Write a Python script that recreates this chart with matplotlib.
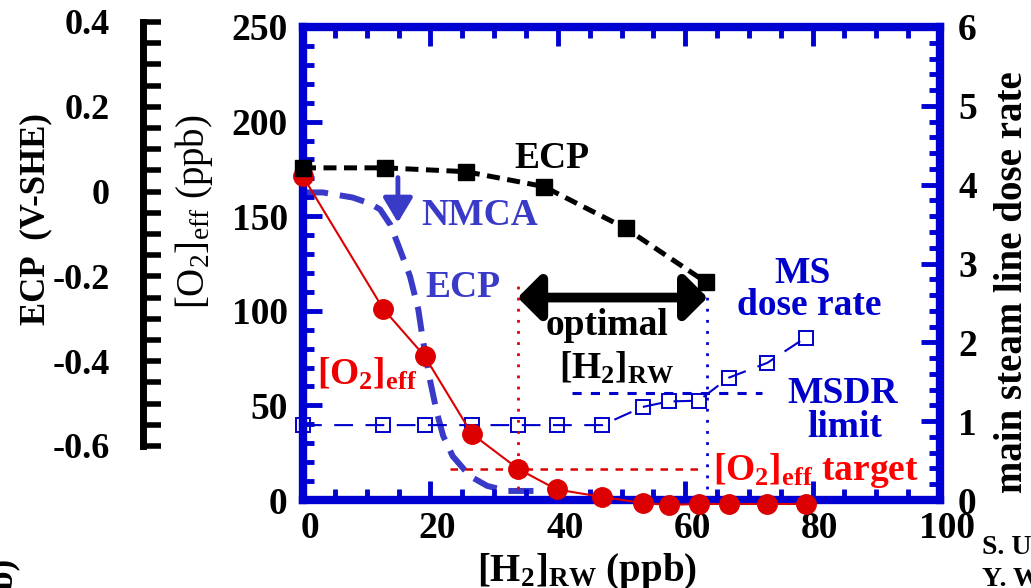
import matplotlib
matplotlib.use("Agg")
import matplotlib.pyplot as plt
import matplotlib.transforms as mtransforms
from matplotlib.ticker import MultipleLocator

plt.rcParams['font.family'] = 'Liberation Serif'
plt.rcParams['mathtext.fontset'] = 'custom'
plt.rcParams['mathtext.rm'] = 'Liberation Serif'
plt.rcParams['mathtext.bf'] = 'Liberation Serif:bold'
plt.rcParams['mathtext.it'] = 'Liberation Serif:italic'

# --- data ---
# ECP with HWC only (black squares), V-SHE
h2_ecp = [0, 12.9, 25.6, 37.8, 50.7, 63.3]
ecp_hwc = [0.056, 0.056, 0.047, 0.012, -0.087, -0.214]

# ECP after NMCA (blue dashed curve), V-SHE
h2_nmca = [0, 3.1, 7.8, 10.5, 12.1, 13.7, 15.2, 16.8, 18.1, 18.8, 19.9,
           21.0, 22.0, 23.5, 26.2, 28.9, 32.0, 37.2]
ecp_nmca = [-0.002, -0.002, -0.014, -0.028, -0.042, -0.078, -0.136, -0.200,
            -0.278, -0.348, -0.442, -0.520, -0.576, -0.624, -0.671, -0.694,
            -0.706, -0.706]

# measured points shared by [O2]eff and MS dose rate
h2_pts = [0, 12.6, 19.1, 26.5, 33.8, 39.8, 47.0, 53.3, 57.4, 62.1, 66.8, 72.9, 78.9]
o2_eff = [171, 101, 76, 35, 16.4, 5.6, 1.6, -1.6, -2.6, -2.1, -2.1, -2.1, -2.1]
ms_dose = [0.95, 0.95, 0.95, 0.95, 0.95, 0.95, 0.95, 1.18, 1.25, 1.26, 1.55, 1.74, 2.06]

o2_target = 16.4
msdr_limit = 1.36
h2_opt_lo, h2_opt_hi = 33.7, 63.5

x_ticks = [0, 20, 40, 60, 80, 100]
o2_ticks = [0, 50, 100, 150, 200, 250]
dose_ticks = [0, 1, 2, 3, 4, 5, 6]
ecp_ticks = [0.4, 0.2, 0, -0.2, -0.4, -0.6]
ecp_tick_labels = ['0.4', '0.2', '0', '-0.2', '-0.4', '-0.6']

AX_BLUE = '#0000d2'
NMCA_BLUE = '#3a3ac8'
MS_BLUE = '#0000cc'
RED = '#dd0000'

W, H = 1031, 588
fig = plt.figure(figsize=(W / 100, H / 100), dpi=100)


def fx(px):
    return px / W


def fy(py):
    return 1 - py / H


# pixel frame of the main box and of the separate ECP scale
left, right, top, bottom = 303, 940, 27, 500
ecp_top, ecp_bot = 22, 446

ax = fig.add_axes([fx(left), fy(bottom), (right - left) / W, (bottom - top) / H])
ax.set_xlim(0, 100)
ax.set_ylim(0, 250)
ax.patch.set_visible(False)

# separate ECP scale on the far left
axe = fig.add_axes([fx(143), fy(ecp_bot), 0.02, (ecp_bot - ecp_top) / H])
axe.set_ylim(-0.6, 0.4)
axe.patch.set_visible(False)
for s in ['top', 'right', 'bottom']:
    axe.spines[s].set_visible(False)
axe.spines['left'].set_linewidth(5)
axe.set_xticks([])
axe.set_yticks(ecp_ticks)
axe.set_yticklabels(ecp_tick_labels)
axe.yaxis.set_minor_locator(MultipleLocator(0.05))
axe.tick_params(axis='y', which='both', direction='in', length=13, width=4,
                pad=24, labelsize=26)
for lbl in axe.get_yticklabels():
    lbl.set_fontweight('bold')

# ECP data on twins scaled to the far-left ECP axis
scale = 1.0 / (ecp_bot - ecp_top)
ecp_lim = (0.4 - (bottom - ecp_top) * scale, 0.4 - (top - ecp_top) * scale)

axn = ax.twinx()
axn.set_ylim(*ecp_lim)
axk = ax.twinx()
axk.set_ylim(*ecp_lim)
axr = ax.twinx()
axr.set_ylim(0, 6)
for a in (axn, axk, axr):
    a.patch.set_visible(False)
    for s in a.spines.values():
        s.set_visible(False)
axn.set_yticks([])
axk.set_yticks([])
axn.set_zorder(1)
axr.set_zorder(2)
ax.set_zorder(3)
axk.set_zorder(4)

# main axis styling
for s in ax.spines.values():
    s.set_color(AX_BLUE)
    s.set_linewidth(6)
ax.set_xticks(x_ticks)
ax.set_yticks(o2_ticks)
ax.xaxis.set_minor_locator(MultipleLocator(5))
ax.yaxis.set_minor_locator(MultipleLocator(10))
ax.tick_params(which='both', direction='in', color=AX_BLUE, width=3.5,
               top=True, right=False, labelsize=27)
ax.tick_params(which='major', length=14)
ax.tick_params(which='minor', length=8)
ax.tick_params(axis='x', pad=8)
ax.tick_params(axis='y', pad=11)
shift = mtransforms.ScaledTranslation(7 / 100, 0, fig.dpi_scale_trans)
for lbl in ax.get_xticklabels():
    lbl.set_fontweight('bold')
    lbl.set_transform(lbl.get_transform() + shift)
for lbl in ax.get_yticklabels():
    lbl.set_fontweight('bold')

axr.set_yticks(dose_ticks)
axr.yaxis.set_minor_locator(MultipleLocator(0.2))
axr.tick_params(axis='y', which='both', direction='in', color=AX_BLUE, width=3.5,
                pad=13, labelsize=27)
axr.tick_params(which='major', length=14)
axr.tick_params(which='minor', length=8)
for lbl in axr.get_yticklabels():
    lbl.set_fontweight('bold')

# curves
axn.plot(h2_nmca, ecp_nmca, color=NMCA_BLUE, lw=4.3, dashes=(4.2, 2.0),
         solid_capstyle='butt', dash_capstyle='butt')

axr.plot(h2_pts, ms_dose, color=MS_BLUE, lw=1.5, dashes=(9, 6),
         marker='s', ms=10, mfc='none', mec=MS_BLUE, mew=1.4, clip_on=False)
axr.plot([42.2, 72.1], [msdr_limit, msdr_limit], color=MS_BLUE, lw=2.2,
         dashes=(3, 3))
axr.plot([h2_opt_hi, h2_opt_hi], [0, 2.6], color=MS_BLUE, lw=2, dashes=(1, 3))

ax.plot(h2_pts, o2_eff, color=RED, lw=1.5, marker='o', ms=14, mec=RED, mfc=RED,
        clip_on=False, zorder=5)
ax.plot([23.1, 62.3], [o2_target, o2_target], color=RED, lw=1.8, dashes=(3, 3))
ax.plot([h2_opt_lo, h2_opt_lo], [0, 115], color=RED, lw=2, dashes=(1, 3))

axk.plot(h2_ecp, ecp_hwc, color='black', lw=3.6, dashes=(2.6, 1.5),
         marker='s', ms=12, mfc='black', mec='black', clip_on=False)

# arrows
ax.annotate('', xy=(h2_opt_hi, 107), xytext=(h2_opt_lo, 107),
            arrowprops=dict(arrowstyle='<|-|>,head_length=0.45,head_width=0.45',
                            lw=7, color='black', mutation_scale=30,
                            shrinkA=0, shrinkB=0), zorder=6)
ax.annotate('', xy=(14.9, 146.6), xytext=(14.9, 170.4),
            arrowprops=dict(arrowstyle='-|>,head_length=0.5,head_width=0.3',
                            lw=3.5, color=NMCA_BLUE, mutation_scale=30,
                            shrinkA=0, shrinkB=0), zorder=6)

# in-plot labels
tk = dict(ha='center', va='baseline', fontsize=27, fontweight='bold', zorder=7)
ax.text(39.1, 175.5, 'ECP', color='black', **tk)
ax.text(27.8, 145.3, 'NMCA', color=NMCA_BLUE, **tk)
ax.text(25.1, 107.3, 'ECP', color=NMCA_BLUE, **tk)
ax.text(47.7, 87.2, 'optimal', color='black', **tk)
ax.text(49.3, 64.5, r'[H$_\mathbf{2}$]$_\mathbf{RW}$', color='black', **tk)
ax.text(10.0, 60.8, r'[O$_\mathbf{2}$]$_\mathbf{eff}$', color='#ee0000', **tk)
ax.text(78.5, 114.7, 'MS', color=MS_BLUE, **tk)
ax.text(79.4, 97.8, 'dose rate', color=MS_BLUE, **tk)
ax.text(84.8, 51.3, 'MSDR', color=MS_BLUE, **tk)
ax.text(85.1, 33.3, 'limit', color=MS_BLUE, **tk)
ax.text(80.6, 10.6, r'[O$_\mathbf{2}$]$_\mathbf{eff}$ target', color='#ff0000', **tk)

# axis titles
fig.text(fx(194), fy(212), r'[O$_2$]$_{\mathrm{eff}}$ (ppb)', rotation=90,
         ha='center', va='center', fontsize=28)
fig.text(fx(36), fy(219), 'ECP  (V-SHE)', rotation=90, ha='center', va='center',
         fontsize=25, fontweight='bold')
fig.text(fx(1013), fy(282), 'main steam line dose rate', rotation=90,
         ha='center', va='center', fontsize=28, fontweight='bold')
fig.text(fx(587), fy(572), r'[H$_\mathbf{2}$]$_\mathbf{RW}$ (ppb)', ha='center',
         va='center', fontsize=28, fontweight='bold')
fig.text(fx(982), fy(548), 'S. U', ha='left', va='center', fontsize=20,
         fontweight='bold')
fig.text(fx(982), fy(580), 'Y. W', ha='left', va='center', fontsize=20,
         fontweight='bold')
fig.text(fx(3), fy(557), '(ppb)', rotation=90, ha='center', va='top',
         fontsize=25, fontweight='bold')

fig.savefig('out.png', dpi=100, facecolor='white')
